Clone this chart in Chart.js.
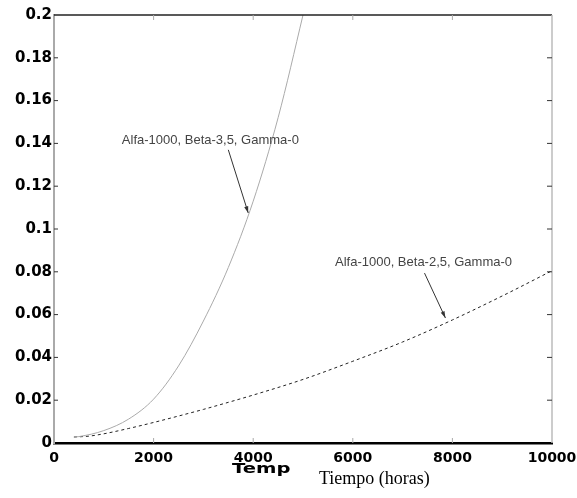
<!DOCTYPE html>
<html>
<head>
<meta charset="utf-8">
<script src="https://cdn.jsdelivr.net/npm/chart.js@4.4.0/dist/chart.umd.min.js"></script>
<style>
  html, body { margin: 0; padding: 0; background: #fff; }
  #wrap { width: 577px; height: 498px; position: relative; }
</style>
</head>
<body>
<div id="wrap"><canvas id="myChart"></canvas></div>
<script>
// curva Beta=3,5 (gris, continua)
const horasA = [400, 500, 1000, 1500, 2000, 2500, 3000, 3500, 4000, 4500, 5000, 5100];
const tasaA = [0.0028, 0.003, 0.0058, 0.0112, 0.0205, 0.036, 0.057, 0.082, 0.113, 0.152, 0.2, 0.21];
// curva Beta=2,5 (negra, discontinua)
const horasB = [400, 700, 1000, 1500, 2000, 2500, 3000, 3500, 4000, 5000, 6000, 7000, 8000, 9000, 10000];
const tasaB = [0.0028, 0.0032, 0.0043, 0.0068, 0.0096, 0.0126, 0.0157, 0.019, 0.0224, 0.0297, 0.0382, 0.0472, 0.0575, 0.0687, 0.0805];

const xTicks = [0, 2000, 4000, 6000, 8000, 10000];
const yTicks = [0, 0.02, 0.04, 0.06, 0.08, 0.1, 0.12, 0.14, 0.16, 0.18, 0.2];

const etiquetas = [
  { texto: 'Alfa-1000, Beta-3,5, Gamma-0', tx: 3140, ty: 0.1416, desde: [3500, 0.137], hasta: [3900, 0.1075] },
  { texto: 'Alfa-1000, Beta-2,5, Gamma-0', tx: 7420, ty: 0.0846, desde: [7440, 0.0794], hasta: [7860, 0.0584] }
];

const toXY = (xs, ys) => xs.map((x, i) => ({ x: x, y: ys[i] }));

const marco = {
  id: 'marco',
  afterDatasetsDraw(chart) {
    const { ctx, chartArea: a, scales: { x, y } } = chart;
    ctx.save();
    // bordes superior y derecho
    ctx.strokeStyle = '#222';
    ctx.lineWidth = 1.5;
    ctx.beginPath(); ctx.moveTo(a.left, a.top); ctx.lineTo(a.right, a.top); ctx.stroke();
    ctx.strokeStyle = '#bbb';
    ctx.lineWidth = 1.5;
    ctx.beginPath(); ctx.moveTo(a.right, a.top); ctx.lineTo(a.right, a.bottom); ctx.stroke();
    // marcas hacia dentro
    ctx.lineWidth = 1;
    ctx.strokeStyle = '#aaa';
    xTicks.slice(1, -1).forEach(v => {
      const px = x.getPixelForValue(v);
      ctx.beginPath(); ctx.moveTo(px, a.bottom); ctx.lineTo(px, a.bottom - 5); ctx.stroke();
      ctx.beginPath(); ctx.moveTo(px, a.top); ctx.lineTo(px, a.top + 5); ctx.stroke();
    });
    ctx.strokeStyle = '#333';
    yTicks.slice(1, -1).forEach(v => {
      const py = y.getPixelForValue(v);
      ctx.beginPath(); ctx.moveTo(a.left, py); ctx.lineTo(a.left + 4, py); ctx.stroke();
      ctx.beginPath(); ctx.moveTo(a.right, py); ctx.lineTo(a.right - 5, py); ctx.stroke();
    });
    // anotaciones con flecha
    etiquetas.forEach(e => {
      ctx.fillStyle = '#444';
      ctx.font = '13px "Liberation Sans", Arial, sans-serif';
      ctx.textAlign = 'center';
      ctx.textBaseline = 'middle';
      ctx.fillText(e.texto, x.getPixelForValue(e.tx), y.getPixelForValue(e.ty));
      const x0 = x.getPixelForValue(e.desde[0]), y0 = y.getPixelForValue(e.desde[1]);
      const x1 = x.getPixelForValue(e.hasta[0]), y1 = y.getPixelForValue(e.hasta[1]);
      ctx.strokeStyle = '#333';
      ctx.lineWidth = 1;
      ctx.beginPath(); ctx.moveTo(x0, y0); ctx.lineTo(x1, y1); ctx.stroke();
      const ang = Math.atan2(y1 - y0, x1 - x0);
      ctx.fillStyle = '#333';
      ctx.beginPath();
      ctx.moveTo(x1, y1);
      ctx.lineTo(x1 - 7 * Math.cos(ang - 0.3), y1 - 7 * Math.sin(ang - 0.3));
      ctx.lineTo(x1 - 7 * Math.cos(ang + 0.3), y1 - 7 * Math.sin(ang + 0.3));
      ctx.closePath();
      ctx.fill();
    });
    // titulos del eje x
    ctx.fillStyle = '#000';
    ctx.textBaseline = 'middle';
    ctx.textAlign = 'left';
    ctx.save();
    ctx.translate(232, 469);
    ctx.scale(1.4, 1);
    ctx.font = 'bold 14px "DejaVu Sans", sans-serif';
    ctx.fillText('Temp', 0, 0);
    ctx.restore();
    ctx.font = '18px "Liberation Serif", "Times New Roman", serif';
    ctx.fillText('Tiempo (horas)', 319, 479);
    ctx.restore();
  }
};

const ctx = document.getElementById('myChart').getContext('2d');

const myChart = new Chart(ctx, {
  type: 'line',
  data: {
    datasets: [{
      label: 'Beta 3,5',
      data: toXY(horasA, tasaA),
      borderColor: '#aaaaaa',
      borderWidth: 1,
      pointRadius: 0,
      cubicInterpolationMode: 'monotone'
    }, {
      label: 'Beta 2,5',
      data: toXY(horasB, tasaB),
      borderColor: '#222222',
      borderWidth: 1,
      borderDash: [3, 3],
      pointRadius: 0,
      cubicInterpolationMode: 'monotone'
    }]
  },
  options: {
    responsive: true,
    maintainAspectRatio: false,
    animation: false,
    layout: { padding: { top: 15, right: 25, left: 0, bottom: 0 } },
    plugins: { legend: { display: false }, tooltip: { enabled: false } },
    scales: {
      x: {
        type: 'linear',
        min: 0,
        max: 10000,
        afterBuildTicks: s => { s.ticks = xTicks.map(v => ({ value: v })); },
        afterFit: s => { s.height = 55; s.paddingLeft = 0; s.paddingRight = 0; },
        grid: { display: false, drawTicks: false },
        border: { display: true, color: '#000', width: 2.5 },
        ticks: {
          color: '#000',
          padding: 7,
          maxRotation: 0,
          autoSkip: false,
          font: { family: '"DejaVu Sans", sans-serif', size: 14, weight: 'bold' },
          callback: v => String(v)
        }
      },
      y: {
        min: 0,
        max: 0.2,
        afterBuildTicks: s => { s.ticks = yTicks.map(v => ({ value: v })); },
        afterFit: s => { s.width = 54; s.paddingTop = 0; s.paddingBottom = 0; },
        grid: { display: false, drawTicks: false },
        border: { display: true, color: '#aaa', width: 2 },
        ticks: {
          color: '#000',
          padding: 2,
          autoSkip: false,
          font: { family: '"DejaVu Sans", sans-serif', size: 15, weight: 'bold' },
          callback: v => String(Math.round(v * 100) / 100)
        }
      }
    }
  },
  plugins: [marco]
});
</script>
</body>
</html>
